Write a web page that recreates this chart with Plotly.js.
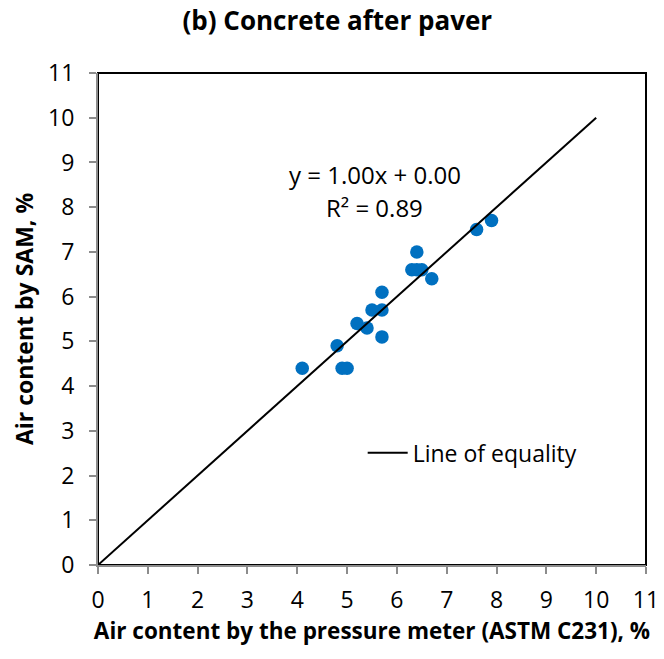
<!DOCTYPE html>
<html>
<head>
<meta charset="utf-8">
<script src="https://cdn.plot.ly/plotly-3.0.1.min.js"></script>
<style>html,body{margin:0;padding:0;background:#fff;}#chart{width:664px;height:659px;}</style>
</head>
<body>
<div id="chart"></div>
<script>
// Air content by pressure meter (x) vs SAM (y), concrete after paver
const pressureMeter = [4.1, 4.8, 4.9, 5.0, 5.2, 5.4, 5.5, 5.7, 5.7, 5.7, 6.3, 6.4, 6.4, 6.5, 6.7, 7.6, 7.9];
const samAir        = [4.4, 4.9, 4.4, 4.4, 5.4, 5.3, 5.7, 5.7, 6.1, 5.1, 6.6, 6.6, 7.0, 6.6, 6.4, 7.5, 7.7];
const equalityX = [0, 10];
const equalityY = [0, 10];
const tickVals = [0, 1, 2, 3, 4, 5, 6, 7, 8, 9, 10, 11];

const FONT = "'Open Sans', 'Noto Sans', sans-serif";

const data = [
  {
    x: pressureMeter, y: samAir, type: 'scatter', mode: 'markers',
    marker: {color: '#0070C0', size: 13.5},
    showlegend: false, cliponaxis: false
  },
  {
    x: equalityX, y: equalityY, type: 'scatter', mode: 'lines',
    line: {color: '#000000', width: 2},
    name: 'Line of equality', showlegend: true
  }
];

const layout = {
  width: 664, height: 659,
  margin: {l: 98, r: 18, t: 73, b: 94},
  paper_bgcolor: '#fff', plot_bgcolor: '#fff',
  font: {family: FONT, size: 23, color: '#000'},
  title: {text: '<b>(b) Concrete after paver</b>', x: 0.508, xanchor: 'center', y: 0.968, yanchor: 'middle',
          font: {family: FONT, size: 26, color: '#000'}},
  xaxis: {
    range: [0, 11], tickvals: tickVals, ticktext: tickVals.map(String),
    showgrid: false, zeroline: false,
    showline: true, linecolor: '#8c8c8c', linewidth: 2,
    ticks: 'outside', ticklen: 7, tickcolor: '#8c8c8c', tickwidth: 2,
    ticklabelstandoff: 6,
    tickfont: {family: FONT, size: 23, color: '#000'},
    title: {text: '<b>Air content by the pressure meter (ASTM C231), %</b>', standoff: 6,
            font: {family: FONT, size: 22.5, color: '#000'}}
  },
  yaxis: {
    range: [0, 11], tickvals: tickVals, ticktext: tickVals.map(String),
    showgrid: false, zeroline: false,
    showline: true, linecolor: '#8c8c8c', linewidth: 2,
    ticks: 'outside', ticklen: 7, tickcolor: '#8c8c8c', tickwidth: 2,
    ticklabelstandoff: 10,
    tickfont: {family: FONT, size: 23, color: '#000'},
    title: {text: '<b>Air content by SAM, %</b>', standoff: 8,
            font: {family: FONT, size: 23, color: '#000'}}
  },
  shapes: [
    {type: 'rect', xref: 'paper', yref: 'paper', x0: 0, x1: 1, y0: 0, y1: 1,
     line: {color: '#000', width: 2}, layer: 'below'}
  ],
  annotations: [
    {xref: 'paper', yref: 'paper', x: 0.505, y: 0.793, text: 'y = 1.00x + 0.00', showarrow: false,
     font: {family: FONT, size: 24, color: '#000'}, xanchor: 'center', yanchor: 'middle'},
    {xref: 'paper', yref: 'paper', x: 0.505, y: 0.726, text: 'R² = 0.89', showarrow: false,
     font: {family: FONT, size: 24, color: '#000'}, xanchor: 'center', yanchor: 'middle'}
  ],
  legend: {x: 0.483, y: 0.228, xanchor: 'left', yanchor: 'middle', bgcolor: 'rgba(0,0,0,0)',
           font: {family: FONT, size: 23, color: '#000'}, itemwidth: 40}
};

Plotly.newPlot('chart', data, layout, {displayModeBar: false, staticPlot: true});
</script>
</body>
</html>
